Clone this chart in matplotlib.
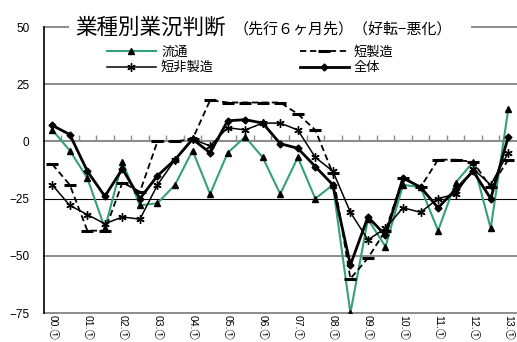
import numpy as np
import matplotlib
matplotlib.use("Agg")
import matplotlib.pyplot as plt
import matplotlib.transforms as mtransforms

plt.rcParams['font.family'] = ['Liberation Sans', 'Noto Sans CJK JP', 'DejaVu Sans']

# semiannual periods, 2000 first half .. 2013 first half
years = [f"{y:02d}" for y in range(0, 14)]
n_points = 27

ryutsu = [5, -4, -16, -38, -9, -28, -27, -19, -4, -23, -5, 2, -7, -23,
          -7, -25, -19, -75, -34, -46, -19, -20, -39, -18, -9, -38, 14]
tan_seizo = [-10, -19, -39, -39, -18, -22, 0, 0, 1, 18, 17, 17, 17, 17,
             12, 5, -14, -60, -51, -39, -16, -20, -8, -8, -9, -20, -8]
tan_hiseizo = [-19, -28, -32, -36, -33, -34, -19, -8, 1, -2, 6, 5, 8, 8,
               5, -7, -13, -31, -43, -38, -29, -31, -25, -23, -12, -19, -5]
zentai = [7, 3, -13, -24, -12, -25, -15, -8, 1, -5, 9, 9.5, 8, -1,
          -3, -11, -19, -54, -33, -41, -16, -20, -29, -21, -13, -25, 2]

yticks = [50, 25, 0, -25, -50, -75]

green = "#35a174"
gray = "#8c8c8c"

fig = plt.figure(figsize=(5.17, 3.42), dpi=100)
ax = fig.add_axes([43.5 / 517, 29 / 342, 473.5 / 517, 286 / 342])

x = np.arange(n_points)

ax.plot(x, ryutsu, color=green, lw=1.5, marker="^", ms=5,
        mfc="black", mec="black", label="流通", zorder=3)
ax.plot(x, tan_hiseizo, color="black", lw=1.1, marker=(6, 2, 0), ms=6,
        mew=1.0, label="短非製造", zorder=4)
ax.plot(x, tan_seizo, color="black", lw=1.3, ls=(0, (3.5, 2)), marker="_",
        ms=8, mew=2.2, label="短製造", zorder=4)
ax.plot(x, zentai, color="black", lw=2.0, marker="D", ms=3.5,
        label="全体", zorder=5)

ax.set_xlim(-0.5, 26.5)
ax.set_ylim(-75, 50)

# horizontal rules
for y in yticks[1:]:
    if y == -25:
        ax.axhline(y, color="black", lw=0.8, zorder=1)
    elif y != 0:
        ax.axhline(y, color=gray, lw=1.4, zorder=1, clip_on=False)

# top rule, broken by the heading
ax.plot([0, 0.052], [1, 1], transform=ax.transAxes, color=gray, lw=1.4,
        clip_on=False)
ax.plot([0.905, 1.0], [1, 1], transform=ax.transAxes, color=gray, lw=1.4,
        clip_on=False)

for side in ["top", "right"]:
    ax.spines[side].set_visible(False)
ax.spines["left"].set_color("black")
ax.spines["left"].set_linewidth(1.2)
ax.spines["bottom"].set_position(("data", 0))
ax.spines["bottom"].set_color(gray)
ax.spines["bottom"].set_linewidth(1.5)
ax.spines["bottom"].set_zorder(1)

ax.set_xticks(np.arange(0.5, 26, 1))
ax.tick_params(axis="x", direction="in", length=4, width=1.0, color=gray,
               labelbottom=False)
ax.set_yticks(yticks)
ax.set_yticklabels([str(v).replace("-", "\u2212") for v in yticks])
ax.tick_params(axis="y", length=0, pad=10, labelsize=8.5)

# period labels under the plot
trans = mtransforms.blended_transform_factory(ax.transData, ax.transAxes)
for k, yy in enumerate(years):
    ax.text(2 * k, -0.008, f"{yy}.①", transform=trans, rotation=270,
            ha="center", va="top", fontsize=7.5, clip_on=False)

# heading
fig.text(75 / 517, 1 - 28 / 342, "業種別業況判断", fontsize=15.5,
         family=["Noto Sans CJK JP"], va="center", ha="left")
fig.text(234 / 517, 1 - 29 / 342, "（先行６ヶ月先）（好転−悪化）", fontsize=10.8,
         family=["Noto Sans CJK JP", "DejaVu Sans"], va="center", ha="left")

handles, labels = ax.get_legend_handles_labels()
leg = ax.legend(handles, labels,
                ncol=2, loc="upper left", bbox_to_anchor=(0.134, 0.935),
                frameon=False, handlelength=3.7, handletextpad=0.4,
                columnspacing=6.5, labelspacing=0.2, borderpad=0,
                borderaxespad=0, prop={"family": "Noto Sans CJK JP", "size": 9.5})

fig.savefig("out.png", dpi=100)
